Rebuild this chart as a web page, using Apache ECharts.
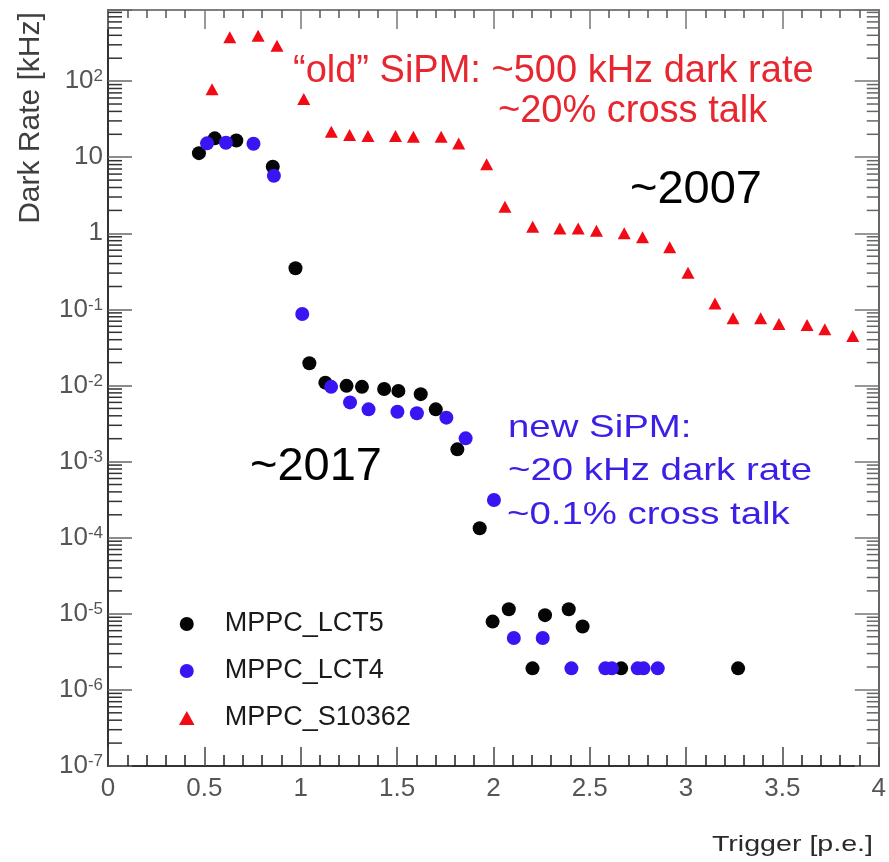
<!DOCTYPE html>
<html>
<head>
<meta charset="utf-8">
<script src="https://cdn.jsdelivr.net/npm/echarts@6/dist/echarts.min.js"></script>
<style>html,body{margin:0;padding:0;background:#fff}#c{width:889px;height:862px}</style>
</head>
<body>
<div id="c"></div>
<script>
// ---- data ----
const lct5X = [0.472, 0.554, 0.666, 0.855, 0.973, 1.045, 1.128, 1.238, 1.318, 1.433, 1.507, 1.623, 1.701, 1.813, 1.929, 1.996, 2.080, 2.203, 2.268, 2.391, 2.463, 2.663, 3.270];
const lct5Y = [11.3, 17.7, 16.6, 7.5, 0.347, 0.0196, 0.0109, 0.0099, 0.0096, 0.0090, 0.0085, 0.0077, 0.00486, 0.00145, 1.33e-4, 7.9e-6, 1.15e-5, 1.92e-6, 9.6e-6, 1.15e-5, 6.8e-6, 1.92e-6, 1.92e-6];

const lct4X = [0.514, 0.612, 0.755, 0.861, 1.008, 1.158, 1.256, 1.352, 1.502, 1.603, 1.756, 1.856, 2.003, 2.106, 2.256, 2.405, 2.581, 2.615, 2.749, 2.779, 2.853];
const lct4Y = [15.2, 15.5, 15.0, 5.7, 0.087, 0.0096, 0.0060, 0.00486, 0.00453, 0.00431, 0.00378, 0.00202, 3.13e-4, 4.8e-6, 4.8e-6, 1.92e-6, 1.92e-6, 1.92e-6, 1.92e-6, 1.92e-6, 1.92e-6];

const s10362X = [0.540, 0.632, 0.779, 0.877, 1.016, 1.159, 1.254, 1.349, 1.492, 1.585, 1.729, 1.820, 1.965, 2.060, 2.204, 2.345, 2.440, 2.535, 2.679, 2.774, 2.915, 3.010, 3.150, 3.244, 3.387, 3.482, 3.628, 3.720, 3.865];
const s10362Y = [78, 376, 395, 292, 58, 21.6, 19.6, 19.0, 19.0, 18.6, 18.6, 15.1, 8.1, 2.24, 1.22, 1.16, 1.16, 1.08, 1.0, 0.886, 0.655, 0.304, 0.120, 0.0764, 0.0764, 0.0643, 0.0624, 0.0547, 0.0447];

const seriesNames = ['MPPC_LCT5', 'MPPC_LCT4', 'MPPC_S10362'];
const xMin = 0, xMax = 4, xStep = 0.5;
const yMin = 1e-7, yMax = 860;

// minor log ticks (2..9 x 10^n) for the y axis decoration
const yMinorTicks = [];
for (let e = -7; e <= 2; e++) {
  for (let k = 2; k <= 9; k++) {
    const v = k * Math.pow(10, e);
    if (v < yMax) yMinorTicks.push(v);
  }
}

const FONT = 'Liberation Sans, Arial, Helvetica, sans-serif';
const zip = (xs, ys) => xs.map((x, i) => [x, ys[i]]);

const chart = echarts.init(document.getElementById('c'), null, {renderer: 'canvas'});

function yLabel(v) {
  const e = Math.log10(v);
  const r = Math.round(e);
  if (Math.abs(e - r) > 1e-6) return '';
  if (r === 0) return '1';
  if (r === 1) return '10';
  return '{b|10}{s|' + r + '}';
}

const option = {
  animation: false,
  backgroundColor: '#ffffff',
  grid: {left: 108, top: 10, width: 773, height: 756, containLabel: false},
  xAxis: [
    {
      type: 'value', position: 'bottom', min: xMin, max: xMax, interval: xStep,
      axisLine: {show: true, onZero: false, lineStyle: {color: '#333', width: 2}},
      axisTick: {show: true, inside: true, length: 19, lineStyle: {color: '#444', width: 1.5}},
      minorTick: {show: true, splitNumber: 5, length: 11, lineStyle: {color: '#222', width: 1.5}},
      splitLine: {show: false},
      axisLabel: {margin: 10, fontSize: 26, color: '#555', fontFamily: FONT,
        formatter: v => String(v)}
    },
    {
      type: 'value', position: 'top', min: xMin, max: xMax, interval: xStep,
      axisLine: {show: true, onZero: false, lineStyle: {color: '#555', width: 1.5}},
      axisTick: {show: true, inside: true, length: 19, lineStyle: {color: '#777', width: 1.5}},
      minorTick: {show: true, splitNumber: 5, length: 8, lineStyle: {color: '#555', width: 1.5}},
      splitLine: {show: false},
      axisLabel: {show: false}
    }
  ],
  yAxis: [
    {
      type: 'log', logBase: 10, position: 'left', min: yMin, max: yMax, splitNumber: 10,
      axisLine: {show: true, onZero: false, lineStyle: {color: '#333', width: 2}},
      axisTick: {show: true, inside: true, length: 24, lineStyle: {color: '#666', width: 1.5}},
      splitLine: {show: false},
      axisLabel: {
        margin: 5, fontSize: 26, color: '#555', fontFamily: FONT,
        formatter: yLabel,
        rich: {
          b: {fontSize: 26, color: '#555', fontFamily: FONT, verticalAlign: 'bottom', lineHeight: 26},
          s: {fontSize: 17, color: '#555', fontFamily: FONT, verticalAlign: 'top', lineHeight: 17, padding: [0, 0, 14, 0]}
        }
      }
    },
    {
      type: 'log', logBase: 10, position: 'right', min: yMin, max: yMax, splitNumber: 10,
      axisLine: {show: true, onZero: false, lineStyle: {color: '#666', width: 2}},
      axisTick: {show: true, inside: true, length: 24, lineStyle: {color: '#777', width: 1.5}},
      splitLine: {show: false},
      axisLabel: {show: false}
    }
  ],
  legend: {
    orient: 'vertical', left: 174, top: 604,
    itemWidth: 66, itemHeight: 14, itemGap: 17,
    symbolKeepAspect: true,
    textStyle: {fontSize: 27, color: '#1a1a1a', fontFamily: FONT, lineHeight: 30},
    data: [
      {name: seriesNames[0], icon: 'circle'},
      {name: seriesNames[1], icon: 'circle'},
      {name: seriesNames[2], icon: 'path://M0,-10L10,8L-10,8Z'}
    ]
  },
  series: [
    {
      type: 'custom', name: 'yminor', silent: true, clip: false, z: 1,
      xAxisIndex: 0, yAxisIndex: 0,
      data: yMinorTicks.map(v => [xMin, v]),
      encode: {x: 0, y: 1},
      renderItem: function (params, api) {
        const v = api.value(1);
        const l = api.coord([xMin, v]);
        const r = api.coord([xMax, v]);
        return {
          type: 'group',
          children: [
            {type: 'line', shape: {x1: l[0], y1: l[1], x2: l[0] + 14, y2: l[1]}, style: {stroke: '#333', lineWidth: 1.5}},
            {type: 'line', shape: {x1: r[0], y1: r[1], x2: r[0] - 12, y2: r[1]}, style: {stroke: '#666', lineWidth: 1.5}}
          ]
        };
      }
    },
    {
      name: seriesNames[0], type: 'scatter', symbol: 'circle', symbolSize: 14,
      itemStyle: {color: '#050505', opacity: 1}, data: zip(lct5X, lct5Y), z: 3
    },
    {
      name: seriesNames[1], type: 'scatter', symbol: 'circle', symbolSize: 14,
      itemStyle: {color: '#3a14f2', opacity: 1}, data: zip(lct4X, lct4Y), z: 4
    },
    {
      name: seriesNames[2], type: 'scatter', symbol: 'triangle', symbolSize: [13, 12],
      itemStyle: {color: '#f20a14', opacity: 1}, data: zip(s10362X, s10362Y), z: 5
    }
  ],
  graphic: [
    {type: 'text', x: 31, y: 118, rotation: Math.PI / 2,
      style: {text: 'Dark Rate [kHz]', font: '30px ' + FONT, fill: '#3f3f3f', align: 'center', verticalAlign: 'middle', textAlign: 'center', textVerticalAlign: 'middle'}},
    {type: 'text', x: 873, y: 845, scaleX: 1.3,
      style: {text: 'Trigger [p.e.]', font: '22px ' + FONT, fill: '#2a2a2a', align: 'right', verticalAlign: 'middle', textAlign: 'right', textVerticalAlign: 'middle'}},
    {type: 'text', x: 293, y: 72,
      style: {text: '\u201Cold\u201D SiPM: ~500 kHz dark rate', font: '38px ' + FONT, fill: '#e8262f', align: 'left', verticalAlign: 'middle', textAlign: 'left', textVerticalAlign: 'middle'}},
    {type: 'text', x: 498, y: 112,
      style: {text: '~20% cross talk', font: '38px ' + FONT, fill: '#e8262f', align: 'left', verticalAlign: 'middle', textAlign: 'left', textVerticalAlign: 'middle'}},
    {type: 'text', x: 508, y: 428, scaleX: 1.2,
      style: {text: 'new SiPM:', font: '32px ' + FONT, fill: '#3a1fe6', align: 'left', verticalAlign: 'middle', textAlign: 'left', textVerticalAlign: 'middle'}},
    {type: 'text', x: 508, y: 471, scaleX: 1.2,
      style: {text: '~20 kHz dark rate', font: '32px ' + FONT, fill: '#3a1fe6', align: 'left', verticalAlign: 'middle', textAlign: 'left', textVerticalAlign: 'middle'}},
    {type: 'text', x: 507, y: 515, scaleX: 1.2,
      style: {text: '~0.1% cross talk', font: '32px ' + FONT, fill: '#3a1fe6', align: 'left', verticalAlign: 'middle', textAlign: 'left', textVerticalAlign: 'middle'}},
    {type: 'text', x: 250, y: 467,
      style: {text: '~2017', font: '47px ' + FONT, fill: '#000', align: 'left', verticalAlign: 'middle', textAlign: 'left', textVerticalAlign: 'middle'}},
    {type: 'text', x: 630, y: 190,
      style: {text: '~2007', font: '47px ' + FONT, fill: '#000', align: 'left', verticalAlign: 'middle', textAlign: 'left', textVerticalAlign: 'middle'}}
  ]
};
chart.setOption(option);
</script>
</body>
</html>
